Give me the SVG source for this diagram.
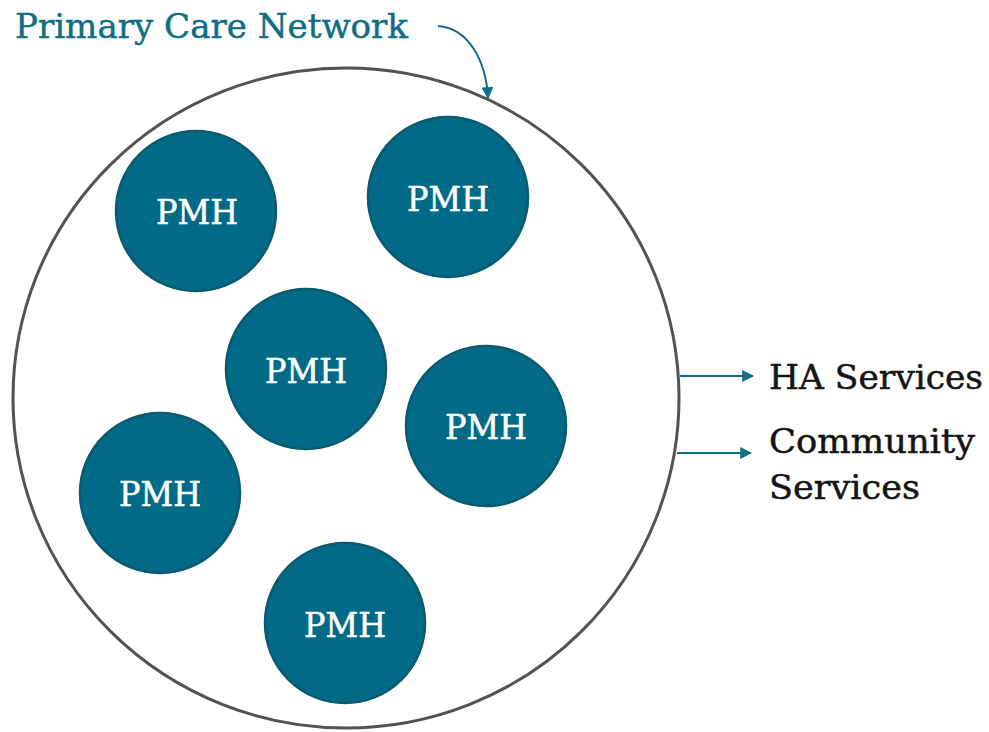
<svg xmlns="http://www.w3.org/2000/svg" width="989" height="732" viewBox="0 0 989 732">
<defs>
<style>
.pmh{fill:#006A87;stroke:#0B5A6E;stroke-width:2.5}
.pt{font-family:"DejaVu Serif","Liberation Serif",serif;font-size:34px;fill:#ffffff;stroke:#ffffff;stroke-width:0.6;text-anchor:middle}
.lbl{font-family:"DejaVu Serif","Liberation Serif",serif;font-size:33px;fill:#141414;stroke:#141414;stroke-width:0.5}
.con{fill:none;stroke:#0E6E86;stroke-width:2}
</style>
<marker id="ah" viewBox="0 0 10 10" refX="9" refY="5" markerWidth="6" markerHeight="6" orient="auto" markerUnits="strokeWidth">
<path d="M0,0 L10,5 L0,10 z" fill="#0E6E86"/>
</marker>
</defs>
<rect width="989" height="732" fill="#ffffff"/>
<g id="network">
<ellipse cx="346" cy="398" rx="333" ry="330" fill="#ffffff" stroke="#555250" stroke-width="3"/>
<text x="15" y="38" font-family="DejaVu Serif, Liberation Serif, serif" font-size="34" fill="#0E6E86" stroke="#0E6E86" stroke-width="0.5" textLength="393" lengthAdjust="spacingAndGlyphs">Primary Care Network</text>
</g>
<g id="pmh1"><circle class="pmh" cx="196" cy="211" r="80"/><text class="pt" x="197" y="224" textLength="82" lengthAdjust="spacingAndGlyphs">PMH</text></g>
<g id="pmh2"><circle class="pmh" cx="448" cy="197" r="80"/><text class="pt" x="448" y="211" textLength="82" lengthAdjust="spacingAndGlyphs">PMH</text></g>
<g id="pmh3"><circle class="pmh" cx="306" cy="369" r="80"/><text class="pt" x="306" y="383" textLength="82" lengthAdjust="spacingAndGlyphs">PMH</text></g>
<g id="pmh4"><circle class="pmh" cx="486" cy="426" r="80"/><text class="pt" x="486" y="439" textLength="82" lengthAdjust="spacingAndGlyphs">PMH</text></g>
<g id="pmh5"><circle class="pmh" cx="160" cy="493" r="80"/><text class="pt" x="160" y="506" textLength="82" lengthAdjust="spacingAndGlyphs">PMH</text></g>
<g id="pmh6"><circle class="pmh" cx="345" cy="623" r="80"/><text class="pt" x="345" y="637" textLength="82" lengthAdjust="spacingAndGlyphs">PMH</text></g>
<g id="ha"><text class="lbl" x="769" y="389" textLength="214" lengthAdjust="spacingAndGlyphs">HA Services</text></g>
<g id="community"><text class="lbl" x="769" y="453" textLength="206" lengthAdjust="spacingAndGlyphs">Community</text><text class="lbl" x="769" y="499" textLength="151" lengthAdjust="spacingAndGlyphs">Services</text></g>
<g id="connectors">
<path class="con" d="M438,26 C468,28 486,60 488,98" marker-end="url(#ah)"/>
<path class="con" d="M680,376 L753,376" marker-end="url(#ah)"/>
<path class="con" d="M677,453 L751,453" marker-end="url(#ah)"/>
</g>
</svg>
